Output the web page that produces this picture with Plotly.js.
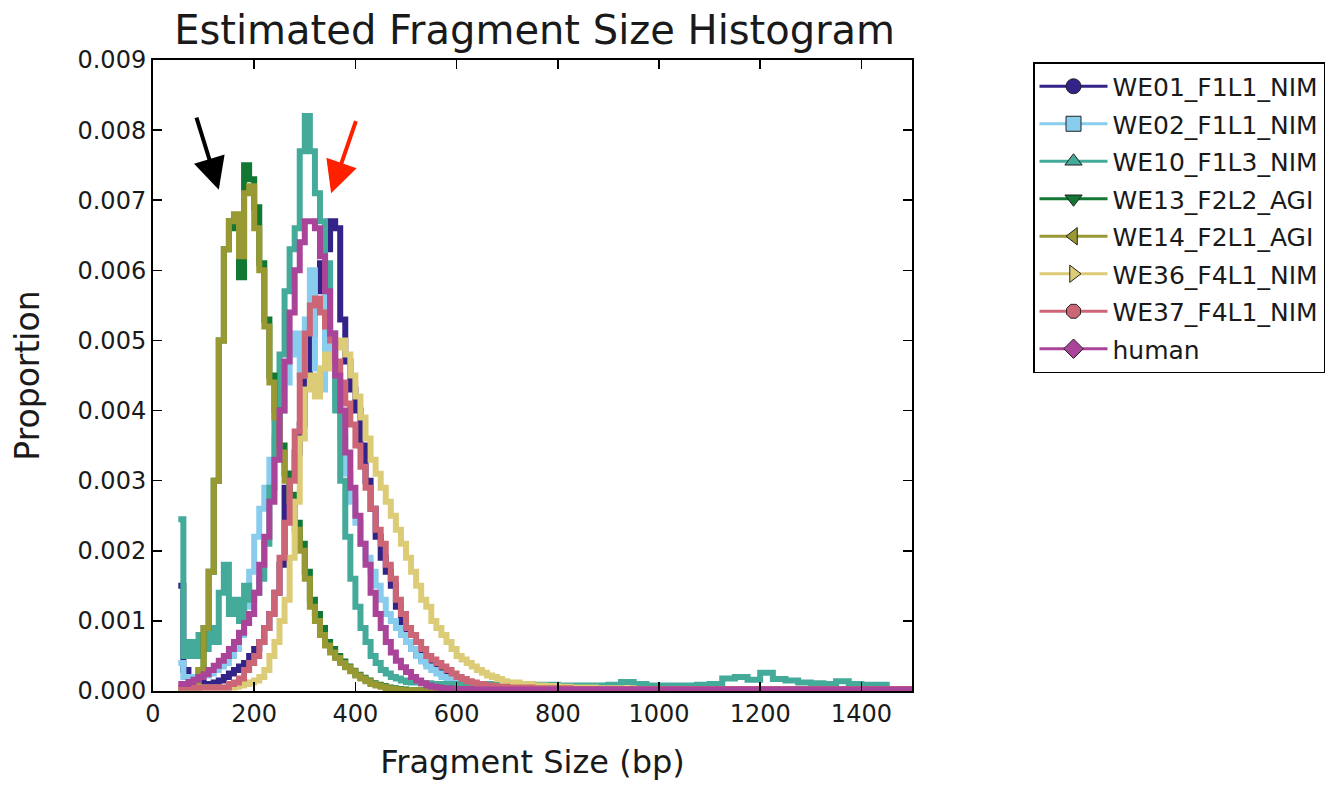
<!DOCTYPE html>
<html>
<head>
<meta charset="utf-8">
<script src="https://cdn.plot.ly/plotly-3.0.1.min.js"></script>
<style>
html,body{margin:0;padding:0;background:#fff;}
#chart{width:1330px;height:785px;}
</style>
</head>
<body>
<div id="chart"></div>
<script>
// 10 bp bins from 50 to 690 (bin start)
const binStart = [50,60,70,80,90,100,110,120,130,140,150,160,170,180,190,200,210,220,230,240,
  250,260,270,280,290,300,310,320,330,340,350,360,370,380,390,400,410,420,430,440,
  450,460,470,480,490,500,510,520,530,540,550,560,570,580,590,600,610,620,630,640,
  650,660,670,680,690];
// 25 bp bins from 700 to 1475 (bin start)
const tailStart = [700,725,750,775,800,825,850,875,900,925,950,975,1000,1025,1050,1075,
  1100,1125,1150,1175,1200,1225,1250,1275,1300,1325,1350,1375,1400,1425,1450,1475];
const binEnd = 1500;

const seriesNames = ["WE01_F1L1_NIM","WE02_F1L1_NIM","WE10_F1L3_NIM","WE13_F2L2_AGI",
  "WE14_F2L1_AGI","WE36_F4L1_NIM","WE37_F4L1_NIM","human"];

const we01 = [0.0015,0.0003,0.0002,0.00015,0.00012,0.0001,0.0001,0.00012,0.00015,0.0002,
  0.00025,0.0003,0.00035,0.0004,0.0005,0.0006,0.0007,0.0009,0.0011,0.0014,
  0.0018,0.0029,0.0031,0.0034,0.0038,0.0045,0.0051,0.0057,0.0061,0.0063,
  0.0067,0.0066,0.0053,0.0047,0.0043,0.0040,0.0035,0.0030,0.0026,0.0022,
  0.0019,0.0017,0.0015,0.0012,0.0009,0.0007,0.0006,0.00052,0.00046,0.0004,
  0.00035,0.0003,0.00025,0.0002,0.00016,0.00013,0.00011,0.0001,0.00009,0.00008,
  0.00007,0.00006,0.00006,0.00005,0.00005];
const we01Tail = [0.00005,0.00004,0.00004,0.00004,0.00003,0.00003,0.00003,0.00003,0.00003,0.00003,
  0.00003,0.00003,0.00003,0.00002,0.00002,0.00002,0.00002,0.00002,0.00002,0.00002,
  0.00002,0.00002,0.00002,0.00002,0.00002,0.00002,0.00002,0.00002,0.00002,0.00002,0.00002,0.00002];

const we02 = [0.0004,0.0002,0.0002,0.0002,0.0002,0.00022,0.00025,0.0003,0.00035,0.0004,
  0.0005,0.0006,0.0008,0.0012,0.0017,0.0022,0.0026,0.0029,0.0033,0.0036,
  0.0040,0.0044,0.0048,0.0051,0.0045,0.0053,0.0060,0.0046,0.0043,0.0057,
  0.0047,0.0041,0.0036,0.0031,0.0027,0.0024,0.0021,0.0019,0.0017,0.0015,
  0.0013,0.0011,0.0010,0.0009,0.0008,0.0007,0.0006,0.0005,0.00042,0.00035,
  0.0003,0.00025,0.0002,0.00017,0.00014,0.00012,0.0001,0.00009,0.00008,0.00007,
  0.00006,0.00005,0.00005,0.00004,0.00004];
const we02Tail = [0.00004,0.00003,0.00003,0.00003,0.00003,0.00002,0.00002,0.00002,0.00002,0.00002,
  0.00002,0.00002,0.00002,0.00002,0.00002,0.00002,0.00002,0.00002,0.00002,0.00002,
  0.00002,0.00002,0.00002,0.00002,0.00002,0.00002,0.00002,0.00002,0.00002,0.00002,0.00002,0.00002];

const we10 = [0.00245,0.0005,0.0007,0.0005,0.0008,0.0006,0.0009,0.0007,0.0014,0.0018,
  0.0011,0.0013,0.0010,0.0015,0.0013,0.0014,0.0016,0.0021,0.0029,0.0039,
  0.0048,0.0057,0.0063,0.0066,0.0077,0.0082,0.0077,0.0071,0.0067,0.0061,
  0.0051,0.0040,0.0030,0.0022,0.0016,0.0012,0.0009,0.0007,0.0005,0.0004,
  0.0003,0.00025,0.0002,0.00018,0.00015,0.00013,0.00012,0.00012,0.00011,0.00011,
  0.0001,0.0001,0.0001,0.0001,0.0001,0.0001,0.0001,0.0001,0.0001,0.0001,
  0.0001,0.0001,0.0001,0.0001,0.0001];
const we10Tail = [0.0001,0.0001,0.00009,0.00009,0.00008,0.00008,0.00008,0.00008,0.00009,0.00013,
  0.0001,0.00008,0.00008,0.00008,0.00008,0.00009,0.0001,0.00018,0.0002,0.00016,
  0.00026,0.00017,0.00015,0.00012,0.00011,0.0001,0.00014,0.0001,0.00009,0.00009,0,0];

const we13 = [0,0,0,0.00005,0.0003,0.0009,0.0017,0.0030,0.0050,0.0063,
  0.0067,0.0066,0.0059,0.0075,0.0073,0.0069,0.0061,0.0053,0.0045,0.0040,
  0.0035,0.0031,0.0028,0.0024,0.0021,0.0017,0.0013,0.0011,0.0009,0.0007,
  0.0006,0.0005,0.00042,0.00035,0.00029,0.00023,0.00019,0.00015,0.00011,0.00009,
  0.00007,0.00005,0.00004,0.00003,0.00002,0.00001,0.00001,0.00001,0.00001,0.00001,
  0.00001,0.00001,0.00001,0.00001,0.00001,0.00001,0.00001,0.00001,0.00001,0.00001,
  0.00001,0.00001,0.00001,0.00001,0.00001];
const we13Tail = [0.00001,0.00001,0.00001,0.00001,0.00001,0.00001,0.00001,0.00001,0.00001,0.00001,
  0.00001,0.00001,0.00001,0.00001,0.00001,0.00001,0.00001,0.00001,0.00001,0.00001,
  0.00001,0.00001,0.00001,0.00001,0.00001,0.00001,0.00001,0.00001,0.00001,0.00001,0.00001,0.00001];

const we14 = [0,0,0,0.00005,0.0003,0.0009,0.0017,0.0030,0.0050,0.0063,
  0.0067,0.0068,0.0062,0.0071,0.0072,0.0066,0.0060,0.0052,0.0044,0.0039,
  0.0034,0.0030,0.0027,0.0023,0.0020,0.0016,0.0012,0.0010,0.0008,0.00065,
  0.00055,0.00047,0.0004,0.00034,0.00028,0.00022,0.00018,0.00014,0.0001,0.00008,
  0.00006,0.00004,0.00003,0.00002,0.00001,0.00001,0.00001,0.00001,0.00001,0.00001,
  0.00001,0.00001,0.00001,0.00001,0.00001,0.00001,0.00001,0.00001,0.00001,0.00001,
  0.00001,0.00001,0.00001,0.00001,0.00001];
const we14Tail = [0.00001,0.00001,0.00001,0.00001,0.00001,0.00001,0.00001,0.00001,0.00001,0.00001,
  0.00001,0.00001,0.00001,0.00001,0.00001,0.00001,0.00001,0.00001,0.00001,0.00001,
  0.00001,0.00001,0.00001,0.00001,0.00001,0.00001,0.00001,0.00001,0.00001,0.00001,0.00001,0.00001];

const we36 = [0.00005,0.00005,0.00005,0.00005,0.00005,0.00005,0.00005,0.00005,0.00005,0.00005,
  0.00005,0.00006,0.00008,0.0001,0.00012,0.00015,0.0002,0.0003,0.0005,0.0007,
  0.0010,0.0013,0.0019,0.0027,0.0036,0.0043,0.0045,0.0042,0.0046,0.0048,
  0.0046,0.0049,0.0050,0.0048,0.0045,0.0042,0.0039,0.0036,0.0033,0.0031,
  0.0029,0.0027,0.0025,0.0023,0.0021,0.0019,0.0017,0.0015,0.0013,0.0012,
  0.0010,0.0009,0.0008,0.0007,0.0006,0.0005,0.00045,0.0004,0.00035,0.0003,
  0.00026,0.00022,0.0002,0.00017,0.00014];
const we36Tail = [0.00012,0.0001,0.00008,0.00007,0.00006,0.00005,0.00005,0.00004,0.00004,0.00004,
  0.00003,0.00003,0.00003,0.00003,0.00003,0.00003,0.00002,0.00002,0.00002,0.00002,
  0.00002,0.00002,0.00002,0.00002,0.00002,0.00002,0.00002,0.00002,0.00002,0.00002,0.00002,0.00002];

const we37 = [0.00005,0.00005,0.00005,0.00005,0.00005,0.00005,0.00005,0.00005,0.00005,0.00005,
  0.0001,0.00012,0.00018,0.0003,0.0004,0.0005,0.0007,0.0009,0.0011,0.0014,
  0.0019,0.0024,0.0030,0.0037,0.0045,0.0051,0.0055,0.0056,0.0054,0.0052,
  0.0050,0.0047,0.0044,0.0041,0.0038,0.0035,0.0032,0.0029,0.0026,0.0023,
  0.0021,0.0018,0.0016,0.0013,0.0011,0.0009,0.0008,0.0007,0.0006,0.0005,
  0.00045,0.0004,0.00035,0.0003,0.00025,0.0002,0.00017,0.00014,0.00012,0.0001,
  0.00009,0.00008,0.00007,0.00006,0.00006];
const we37Tail = [0.00005,0.00005,0.00004,0.00004,0.00004,0.00003,0.00003,0.00003,0.00003,0.00003,
  0.00003,0.00003,0.00003,0.00003,0.00003,0.00003,0.00003,0.00003,0.00003,0.00003,
  0.00003,0.00003,0.00003,0.00003,0.00003,0.00003,0.00003,0.00003,0.00003,0.00003,0.00003,0.00003];

const human = [0.0001,0.0001,0.00013,0.00016,0.0002,0.00024,0.0003,0.00036,0.00043,0.0005,
  0.0006,0.0007,0.00083,0.00097,0.0011,0.0014,0.0018,0.0022,0.0027,0.0033,
  0.0040,0.0047,0.0054,0.0060,0.0064,0.0067,0.0067,0.0066,0.0062,0.0057,
  0.0051,0.0045,0.0040,0.0034,0.0029,0.0025,0.0021,0.0018,0.0014,0.0011,
  0.0009,0.0007,0.00055,0.00043,0.00034,0.00027,0.0002,0.00015,0.00011,0.00008,
  0.00006,0.00005,0.00004,0.00004,0.00003,0.00003,0.00003,0.00003,0.00002,0.00002,
  0.00002,0.00002,0.00002,0.00002,0.00002];
const humanTail = [0.00002,0.00002,0.00002,0.00002,0.00002,0.00002,0.00002,0.00002,0.00002,0.00002,
  0.00002,0.00002,0.00002,0.00002,0.00002,0.00002,0.00002,0.00002,0.00002,0.00002,
  0.00002,0.00002,0.00002,0.00002,0.00002,0.00002,0.00002,0.00002,0.00002,0.00002,0.00002,0.00002];

const seriesCore = [we01, we02, we10, we13, we14, we36, we37, human];
const seriesTail = [we01Tail, we02Tail, we10Tail, we13Tail, we14Tail, we36Tail, we37Tail, humanTail];

const colors = ["#332288","#88CCEE","#44AA99","#117733","#999933","#DDCC77","#CC6677","#AA4499"];
const symbols = ["circle","square","triangle-up","triangle-down","triangle-left","triangle-right","octagon","diamond"];

const xs = binStart.concat(tailStart).concat([binEnd]);
const traces = [];
seriesNames.forEach((name, i) => {
  const ys = seriesCore[i].concat(seriesTail[i]);
  ys.push(ys[ys.length - 1]);
  traces.push({
    type: 'scatter', mode: 'lines', x: xs, y: ys, name: name,
    line: {color: colors[i], width: 6, shape: 'hv'},
    showlegend: false, hoverinfo: 'skip'
  });
});
// legend entries
seriesNames.forEach((name, i) => {
  traces.push({
    type: 'scatter', mode: 'lines+markers', x: [null], y: [null], name: name,
    legendgroup: 'g' + i,
    line: {color: colors[i], width: 3},
    marker: {symbol: symbols[i], color: colors[i], size: 15, line: {color: '#222', width: 1}},
    showlegend: true
  });
});

const fontFam = 'DejaVu Sans, sans-serif';
const layout = {
  width: 1330, height: 785,
  paper_bgcolor: '#fff', plot_bgcolor: '#fff',
  margin: {l: 153, r: 418, t: 60, b: 94},
  font: {family: fontFam, color: '#1a1a1a', size: 24},
  title: {text: 'Estimated Fragment Size Histogram', font: {family: fontFam, size: 40, color: '#1a1a1a'},
          x: 0.402, xanchor: 'center', y: 0.962, yanchor: 'middle'},
  xaxis: {
    range: [0, 1500], tickvals: [0,200,400,600,800,1000,1200,1400],
    ticks: 'inside', ticklen: 9, tickwidth: 1.5, tickcolor: '#000',
    showline: true, linecolor: '#000', linewidth: 2, mirror: 'allticks',
    showgrid: false, zeroline: false,
    tickfont: {size: 24},
    title: {text: 'Fragment Size (bp)', font: {size: 32}, standoff: 24}
  },
  yaxis: {
    range: [0, 0.009], dtick: 0.001, tickformat: '.3f',
    ticks: 'inside', ticklen: 9, tickwidth: 1.5, tickcolor: '#000',
    showline: true, linecolor: '#000', linewidth: 2, mirror: 'allticks',
    showgrid: false, zeroline: false,
    tickfont: {size: 24},
    title: {text: 'Proportion', font: {size: 33}, standoff: 28}
  },
  legend: {
    xref: 'container', yref: 'container',
    x: 0.7767, xanchor: 'left', y: 0.921, yanchor: 'top',
    bgcolor: '#fff', bordercolor: '#000', borderwidth: 1.5,
    font: {size: 25, color: '#1a1a1a'}, itemwidth: 68, tracegroupgap: 2
  },
  annotations: [
    {x: 130, y: 0.00715, ax: 85, ay: 0.0082, xref: 'x', yref: 'y', axref: 'x', ayref: 'y',
     text: '', showarrow: true, arrowhead: 2, arrowsize: 1.6, arrowwidth: 4, arrowcolor: '#000'},
    {x: 352, y: 0.0071, ax: 402, ay: 0.00815, xref: 'x', yref: 'y', axref: 'x', ayref: 'y',
     text: '', showarrow: true, arrowhead: 2, arrowsize: 1.6, arrowwidth: 4, arrowcolor: '#ff2000'}
  ]
};

Plotly.newPlot('chart', traces, layout, {displayModeBar: false, staticPlot: true});
</script>
</body>
</html>
